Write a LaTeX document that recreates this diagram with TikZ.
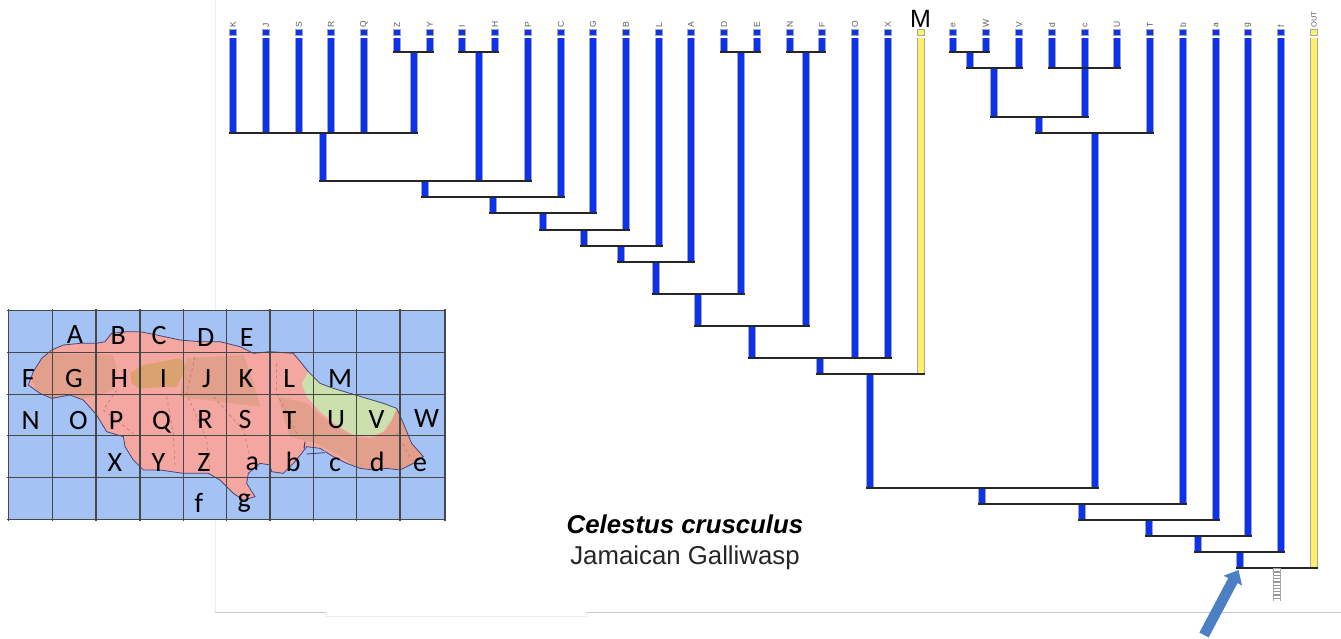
\documentclass[tikz,border=0pt]{standalone}
\usepackage{fontspec}
\setmainfont{Liberation Sans}
\newfontfamily\mapfont{Carlito}
\usetikzlibrary{arrows.meta}
\definecolor{barblue}{HTML}{0A32F0}
\definecolor{baryel}{HTML}{FFF066}
\definecolor{mapblue}{HTML}{A4C2F4}
\definecolor{isl}{HTML}{F4A6A0}
\definecolor{hill}{HTML}{E2A08C}
\definecolor{orangehill}{HTML}{D9A26E}
\definecolor{lime}{HTML}{CBE0AC}
\definecolor{arrowblue}{HTML}{4C7FC4}
\tikzset{
  bar/.style={draw=gray!70,line width=1.1pt,double=barblue,double distance=5.8pt},
  ybar/.style={draw=gray!70,line width=1.1pt,double=baryel,double distance=5.8pt},
  hline/.style={draw=black!85,line width=1.5pt,shorten <=-4pt,shorten >=-4pt},
  tipbox/.style={draw=gray!70,fill=barblue,line width=1pt,minimum width=6.8pt,minimum height=6.4pt,inner sep=0pt},
  ytipbox/.style={tipbox,fill=baryel},
  tiplab/.style={rotate=90,anchor=west,font=\fontsize{8.5}{8.5}\selectfont,text=black!65,inner sep=0pt},
  maplab/.style={anchor=base,inner sep=0pt,font=\mapfont\fontsize{28}{28}\selectfont,text=black},
  gridl/.style={draw=black!72,line width=1.2pt},
  road/.style={draw=black!30!isl,line width=0.5pt,dashed},
  faint/.style={draw=black!22,line width=0.8pt},
  fainter/.style={draw=black!7,line width=0.8pt},
}
\newcommand{\tipnode}[2]{%
  \coordinate (#1) at (#2,37.5);
  \node[tipbox] (b#1) at (#2,32.5) {};
  \node[tiplab] (l#1) at (#2,27.5) {#1};
}
\newcommand{\stemto}[2]{\draw[bar] (#1) -- (#1 |- #2);}
\newcommand{\hlink}[3]{\draw[hline] (#1 |- #3) -- (#2 |- #3);}
\begin{document}
\begin{tikzpicture}[x=1pt,y=-1pt]
\useasboundingbox (0,0) rectangle (1341,638);
\fill[white] (0,0) rectangle (1341,638);
% faint page edges
\draw[fainter] (215,0) -- (215,310);
\draw[fainter] (215,520) -- (215,612);
\draw[faint] (215,612) -- (326,612);
\draw[fainter] (326,612) -- (326,616) -- (586,616) -- (586,612);
\draw[faint] (586,612) -- (1341,612);
% map
\begin{scope}[shift={(0,300)},x=0.33333pt,y=-0.33333pt]
\fill[mapblue] (25,32) rectangle (1335,658);
\def\islandpath{(85,255) -- (100,215) -- (125,175) -- (155,150) -- (190,135) -- (240,130) -- (290,130) -- (315,125) -- (335,100) -- (380,95) -- (420,95) -- (470,105) -- (540,120) -- (600,125) -- (660,125) -- (720,140) -- (760,160) -- (810,155) -- (880,160) -- (905,190) -- (925,215) -- (960,250) -- (1000,265) -- (1050,280) -- (1100,295) -- (1150,310) -- (1190,325) -- (1210,370) -- (1235,430) -- (1270,470) -- (1240,490) -- (1200,510) -- (1160,505) -- (1120,510) -- (1080,505) -- (1040,490) -- (1000,470) -- (960,445) -- (920,440) -- (905,460) -- (880,490) -- (850,520) -- (815,515) -- (810,495) -- (780,490) -- (745,520) -- (740,550) -- (765,590) -- (730,600) -- (700,580) -- (660,540) -- (625,520) -- (550,520) -- (480,510) -- (430,510) -- (400,480) -- (375,440) -- (370,410) -- (320,395) -- (290,345) -- (250,300) -- (210,285) -- (155,295) -- (120,280) -- cycle}
\fill[isl] \islandpath;
\begin{scope}
\clip \islandpath;
\fill[hill] (150,160) -- (340,165) -- (350,210) -- (340,270) -- (300,285) -- (250,295) -- (155,295) -- (110,270) -- (90,230) -- (125,170) -- cycle;
\fill[hill] (560,175) -- (730,165) -- (765,260) -- (780,320) -- (700,310) -- (540,290) -- cycle;
\fill[hill] (835,290) -- (920,310) -- (990,370) -- (1060,410) -- (1120,415) -- (1160,390) -- (1190,325) -- (1210,370) -- (1235,430) -- (1270,475) -- (1200,515) -- (1080,510) -- (1040,480) -- (950,430) -- (870,410) -- (850,350) -- cycle;
\fill[orangehill] (390,220) -- (430,195) -- (540,175) -- (560,200) -- (530,260) -- (420,265) -- (395,250) -- cycle;
\fill[lime] (925,215) -- (905,250) -- (920,290) -- (960,335) -- (1010,375) -- (1060,405) -- (1110,410) -- (1150,395) -- (1175,360) -- (1190,325) -- (1190,290) -- (925,190) -- cycle;
\draw[road] (500,290) -- (520,400) -- (525,500);
\draw[road] (585,170) -- (560,280) -- (620,420) -- (630,510);
\draw[road] (350,270) -- (310,330) -- (400,400);
\draw[road] (640,290) -- (730,390) -- (750,470);
\draw[road] (1190,400) -- (1230,470);
\draw[road] (830,190) -- (830,280) -- (890,400);
\end{scope}
\draw[draw=black!55!blue!45!gray,line width=0.8pt] \islandpath;
\draw[draw=black!60!blue!55!gray,line width=1pt] (915,425) -- (912,445);
\fill[mapblue] (920,457) -- (975,452) -- (975,460) -- (925,465) -- cycle;
\draw[draw=black!60!blue!55!gray,line width=0.8pt] (920,462) -- (975,458);
\foreach \gx in {25,158,288,420,550,680,810,940,1070,1200,1335} \draw[gridl] (\gx,28) -- (\gx,662);
\foreach \gy in {32,158,283,407,532,658} \draw[gridl] (22,\gy) -- (1338,\gy);
\node[maplab] (mA) at (225,130) {A};
\node[maplab] (mB) at (355,133) {B};
\node[maplab] (mC) at (477,133) {C};
\node[maplab] (mD) at (617,138) {D};
\node[maplab] (mE) at (740,140) {E};
\node[maplab] (mF) at (85,263) {F};
\node[maplab] (mG) at (222,263) {G};
\node[maplab] (mH) at (358,263) {H};
\node[maplab] (mI) at (490,263) {I};
\node[maplab] (mJ) at (620,263) {J};
\node[maplab] (mK) at (738,263) {K};
\node[maplab] (mL) at (868,263) {L};
\node[maplab] (mM) at (1020,263) {M};
\node[maplab] (mN) at (92,387) {N};
\node[maplab] (mO) at (235,387) {O};
\node[maplab] (mP) at (348,387) {P};
\node[maplab] (mQ) at (485,387) {Q};
\node[maplab] (mR) at (615,385) {R};
\node[maplab] (mS) at (735,385) {S};
\node[maplab] (mT) at (868,387) {T};
\node[maplab] (mU) at (1008,385) {U};
\node[maplab] (mV) at (1130,385) {V};
\node[maplab] (mW) at (1280,382) {W};
\node[maplab] (mX) at (345,514) {X};
\node[maplab] (mY) at (475,514) {Y};
\node[maplab] (mZ) at (612,514) {Z};
\node[maplab] (ma) at (757,512) {a};
\node[maplab] (mb) at (880,514) {b};
\node[maplab] (mc) at (1005,514) {c};
\node[maplab] (md) at (1132,514) {d};
\node[maplab] (me) at (1260,514) {e};
\node[maplab] (mf) at (597,636) {f};
\node[maplab] (mg) at (733,622) {g};
\end{scope}
% tips
\tipnode{K}{233}\tipnode{J}{266}\tipnode{S}{299}\tipnode{R}{331}\tipnode{Q}{364}
\tipnode{Z}{397}\tipnode{Y}{430}\tipnode{I}{462}\tipnode{H}{495}\tipnode{P}{528}
\tipnode{C}{561}\tipnode{G}{593}\tipnode{B}{626}\tipnode{L}{659}\tipnode{A}{691}
\tipnode{D}{724}\tipnode{E}{757}\tipnode{N}{790}\tipnode{F}{822}\tipnode{O}{855}
\tipnode{X}{888}\tipnode{e}{953}\tipnode{W}{986}\tipnode{V}{1019}\tipnode{d}{1052}
\tipnode{c}{1085}\tipnode{U}{1117}\tipnode{T}{1150}\tipnode{b}{1183}\tipnode{a}{1216}
\tipnode{g}{1248}\tipnode{f}{1281}
\coordinate (M) at (921,37.5);
\node[ytipbox] (bM) at (921,32.5) {};
\node[anchor=base,inner sep=0pt,font=\fontsize{25}{25}\selectfont] (lM) at (920.5,27) {M};
\coordinate (OUT) at (1314,37.5);
\node[ytipbox] (bOUT) at (1314,32.5) {};
\node[tiplab,font=\fontsize{7.5}{7.5}\selectfont] (lOUT) at (1314,27.5) {OUT};
% internal nodes
\coordinate (zy) at (414,52);
\coordinate (ih) at (479,52);
\coordinate (n3) at (323,133);
\coordinate (n4) at (425,181);
\coordinate (n5) at (493,197);
\coordinate (n6) at (543,213);
\coordinate (n7) at (584,230);
\coordinate (n8) at (621,246);
\coordinate (n9) at (656,262);
\coordinate (de) at (741,52);
\coordinate (n10) at (698,294);
\coordinate (nf) at (806,52);
\coordinate (n11) at (752,326);
\coordinate (n12) at (820,358);
\coordinate (n13) at (870,374);
\coordinate (ew) at (970,52);
\coordinate (ev) at (994,68);
\coordinate (dcu) at (1085,68);
\coordinate (n14) at (1039,117);
\coordinate (n15) at (1095,133);
\coordinate (n16) at (982,488);
\coordinate (n17) at (1082,504);
\coordinate (n18) at (1149,520);
\coordinate (n19) at (1198,536);
\coordinate (n20) at (1240,552);
\coordinate (rootl) at (1240,568);
\coordinate (n21) at (1277,568);
\coordinate (stub) at (1277,600.5);
\coordinate (arrowtail) at (1204,635);
% stems
\foreach \tn in {K,J,S,R,Q} {\stemto{\tn}{n3}}
\stemto{Z}{zy}\stemto{Y}{zy}\stemto{I}{ih}\stemto{H}{ih}
\stemto{zy}{n3}\stemto{ih}{n4}\stemto{P}{n4}\stemto{n3}{n4}
\stemto{n4}{n5}\stemto{C}{n5}\stemto{n5}{n6}\stemto{G}{n6}
\stemto{n6}{n7}\stemto{B}{n7}\stemto{n7}{n8}\stemto{L}{n8}
\stemto{n8}{n9}\stemto{A}{n9}\stemto{D}{de}\stemto{E}{de}
\stemto{n9}{n10}\stemto{de}{n10}\stemto{n10}{n11}\stemto{N}{nf}\stemto{F}{nf}\stemto{nf}{n11}
\stemto{n11}{n12}\stemto{O}{n12}\stemto{X}{n12}\stemto{n12}{n13}
\draw[ybar] (M) -- (M |- n13);
\stemto{n13}{n16}
\stemto{e}{ew}\stemto{W}{ew}\stemto{ew}{ev}\stemto{V}{ev}\stemto{ev}{n14}
\stemto{d}{dcu}\stemto{U}{dcu}\stemto{c}{n14}\stemto{n14}{n15}\stemto{T}{n15}\stemto{n15}{n16}
\stemto{n16}{n17}\stemto{b}{n17}\stemto{n17}{n18}\stemto{a}{n18}
\stemto{n18}{n19}\stemto{g}{n19}\stemto{n19}{n20}\stemto{f}{n20}\stemto{n20}{rootl}
\draw[ybar] (OUT) -- (OUT |- n21);
% horizontals
\hlink{Z}{Y}{zy}\hlink{I}{H}{ih}\hlink{K}{zy}{n3}\hlink{n3}{P}{n4}\hlink{n4}{C}{n5}
\hlink{n5}{G}{n6}\hlink{n6}{B}{n7}\hlink{n7}{L}{n8}\hlink{n8}{A}{n9}\hlink{D}{E}{de}
\hlink{n9}{de}{n10}\hlink{N}{F}{nf}\hlink{n10}{nf}{n11}\hlink{n11}{X}{n12}\hlink{n12}{M}{n13}
\hlink{e}{W}{ew}\hlink{ew}{V}{ev}\hlink{d}{U}{dcu}\hlink{ev}{c}{n14}\hlink{n14}{T}{n15}
\hlink{n13}{n15}{n16}\hlink{n16}{b}{n17}\hlink{n17}{a}{n18}\hlink{n18}{g}{n19}\hlink{n19}{f}{n20}
\hlink{n20}{OUT}{n21}
% root stub
\draw[draw=gray!70,line width=1pt,double=white,double distance=5.4pt] (n21) -- (stub);
\draw[draw=gray!80,line width=5.4pt,dash pattern=on 1.3pt off 2pt] (n21) -- (stub);
% arrow
\draw[-{Triangle[width=20pt,length=12pt]},line width=10.5pt,draw=arrowblue] (arrowtail) -- ([xshift=-1.5pt,yshift=-2pt]rootl);
% captions
\node[anchor=base,inner sep=0pt,font=\fontsize{25.8}{26}\selectfont\bfseries\itshape] (title) at (685,533) {Celestus crusculus};
\node[anchor=base,inner sep=0pt,font=\fontsize{25.8}{26}\selectfont,text=black!85] (sub) at (685,564) {Jamaican Galliwasp};
\end{tikzpicture}
\end{document}
